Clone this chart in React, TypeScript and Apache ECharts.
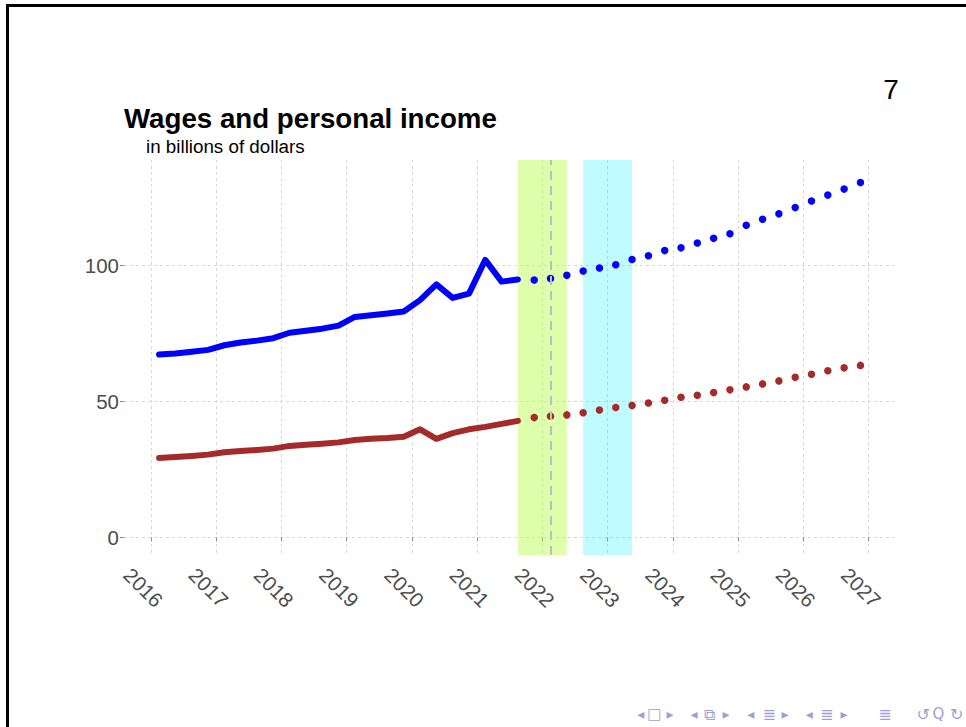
import React, { useEffect, useRef } from "react";
import * as echarts from "echarts";

// ---- data ----
const actualQuarters = [
  "2016Q1", "2016Q2", "2016Q3", "2016Q4",
  "2017Q1", "2017Q2", "2017Q3", "2017Q4",
  "2018Q1", "2018Q2", "2018Q3", "2018Q4",
  "2019Q1", "2019Q2", "2019Q3", "2019Q4",
  "2020Q1", "2020Q2", "2020Q3", "2020Q4",
  "2021Q1", "2021Q2", "2021Q3",
];
const forecastQuarters = [
  "2021Q4",
  "2022Q1", "2022Q2", "2022Q3", "2022Q4",
  "2023Q1", "2023Q2", "2023Q3", "2023Q4",
  "2024Q1", "2024Q2", "2024Q3", "2024Q4",
  "2025Q1", "2025Q2", "2025Q3", "2025Q4",
  "2026Q1", "2026Q2", "2026Q3", "2026Q4",
];
const personalIncomeActual = [
  67.2, 67.6, 68.2, 68.9,
  70.6, 71.6, 72.3, 73.2,
  75.2, 75.9, 76.7, 77.8,
  81.0, 81.6, 82.3, 83.0,
  87.2, 93.0, 88.0, 89.6,
  102.0, 94.0, 94.8,
];
const personalIncomeForecast = [
  94.6, 95.1, 96.3, 97.9, 99.0, 100.2, 102.1, 103.5, 105.4, 106.4, 108.2,
  109.9, 111.6, 114.7, 116.9, 118.9, 121.2, 123.6, 125.8, 128.0, 130.4,
];
const wagesActual = [
  29.2, 29.5, 29.9, 30.4,
  31.3, 31.7, 32.1, 32.6,
  33.6, 34.0, 34.4, 34.9,
  35.8, 36.2, 36.5, 37.0,
  39.7, 36.2, 38.3, 39.7,
  40.6, 41.7, 42.8,
];
const wagesForecast = [
  44.0, 44.5, 45.0, 45.8, 46.8, 47.7, 48.5, 49.4, 50.4, 51.5, 52.2,
  53.2, 54.2, 55.3, 56.4, 57.5, 58.8, 59.9, 61.2, 62.3, 63.2,
];
const yearTicks = [2016, 2017, 2018, 2019, 2020, 2021, 2022, 2023, 2024, 2025, 2026, 2027];
const yTicks = [0, 50, 100];
const greenBand = ["2021Q3", "2022Q2"]; // band edges (quarter mid-points)
const cyanBand = ["2022Q3", "2023Q2"];
const dashedQuarter = "2022Q1";

// quarter label -> decimal year at mid-quarter
const qx = (q: string) => {
  const y = parseInt(q.slice(0, 4), 10);
  const n = parseInt(q.slice(5), 10);
  return y + (n - 1) * 0.25 + 0.125;
};
const pairs = (qs: string[], vs: number[]) => qs.map((q, i) => [qx(q), vs[i]]);

const FONT = "'Liberation Sans', Arial, sans-serif";
const NAV = "#9e9ed8";

export default function App() {
  const ref = useRef<HTMLDivElement>(null);
  useEffect(() => {
    if (!ref.current) return;
    const chart = echarts.init(ref.current, undefined, { renderer: "svg" });
    const navItems: [number, string, number][] = [
      [640.7, "◂", 14], [654.3, "□", 15], [670, "▸", 14],
      [694, "◂", 14], [709.3, "⧉", 16], [726, "▸", 14],
      [750.7, "◂", 14], [769.3, "≣", 16], [785, "▸", 14],
      [809.3, "◂", 14], [826.7, "≣", 16], [844, "▸", 14],
      [885, "≣", 16], [923.3, "↺", 16], [938.3, "Q", 15], [956.7, "↻", 16],
    ];
    const gridStyle = { color: "#d9d9d9", type: [3, 3] as any, width: 1 };
    chart.setOption({
      animation: false,
      backgroundColor: "#ffffff",
      grid: { left: 124, right: 70.5, top: 160, bottom: 172, containLabel: false },
      xAxis: {
        type: "value",
        min: 2015.5875,
        max: 2027.4125,
        axisLine: { show: false },
        axisTick: { show: true, length: 4, lineStyle: { color: "#8c8c8c" }, customValues: yearTicks },
        axisLabel: {
          customValues: yearTicks,
          rotate: -45,
          align: "center",
          verticalAlign: "top",
          margin: 25,
          fontSize: 20.5,
          color: "#4d4d4d",
          fontFamily: FONT,
          formatter: (v: number) => String(Math.round(v)),
        },
        splitLine: { show: true, lineStyle: gridStyle },
      },
      yAxis: {
        type: "value",
        min: -6.5,
        max: 138.7,
        axisLine: { show: false },
        axisTick: { show: true, length: 4, lineStyle: { color: "#8c8c8c" }, customValues: yTicks },
        axisLabel: {
          customValues: yTicks,
          margin: 5,
          fontSize: 20.5,
          color: "#4d4d4d",
          fontFamily: FONT,
        },
        splitLine: { show: true, lineStyle: gridStyle },
      },
      series: [
        {
          type: "line",
          name: "bands",
          z: 1,
          silent: true,
          symbol: "none",
          lineStyle: { opacity: 0 },
          data: pairs(forecastQuarters, personalIncomeForecast),
          markArea: {
            silent: true,
            label: { show: false },
            data: [
              [
                { xAxis: qx(greenBand[0]), itemStyle: { color: "rgba(173,255,47,0.40)" } },
                { xAxis: qx(greenBand[1]) },
              ],
              [
                { xAxis: qx(cyanBand[0]), itemStyle: { color: "rgba(0,240,255,0.25)" } },
                { xAxis: qx(cyanBand[1]) },
              ],
            ],
          },
        },
        {
          type: "line",
          name: "vline",
          z: 2,
          silent: true,
          symbol: "none",
          lineStyle: { opacity: 0 },
          data: pairs(forecastQuarters, wagesForecast),
          markLine: {
            silent: true,
            symbol: "none",
            label: { show: false },
            lineStyle: { color: "#bebebe", type: [9, 6], width: 2 },
            data: [{ xAxis: qx(dashedQuarter) }],
          },
        },
        {
          type: "line",
          name: "Personal income",
          z: 3,
          symbol: "none",
          lineStyle: { color: "#0000ff", width: 6, cap: "round", join: "round" },
          data: pairs(actualQuarters, personalIncomeActual),
        },
        {
          type: "line",
          name: "Wages",
          z: 3,
          symbol: "none",
          lineStyle: { color: "#a52a2a", width: 6, cap: "round", join: "round" },
          data: pairs(actualQuarters, wagesActual),
        },
        {
          type: "scatter",
          name: "Personal income forecast",
          z: 4,
          symbolSize: 7.5,
          itemStyle: { color: "#0000ff", opacity: 1 },
          data: pairs(forecastQuarters, personalIncomeForecast),
        },
        {
          type: "scatter",
          name: "Wages forecast",
          z: 4,
          symbolSize: 7.5,
          itemStyle: { color: "#a52a2a", opacity: 1 },
          data: pairs(forecastQuarters, wagesForecast),
        },
      ],
      graphic: [
        { type: "rect", shape: { x: 6, y: 4, width: 960, height: 3 }, style: { fill: "#000" } },
        { type: "rect", shape: { x: 6, y: 4, width: 3, height: 723 }, style: { fill: "#000" } },
        {
          type: "text",
          x: 124,
          y: 118,
          style: {
            text: "Wages and personal income",
            fontSize: 27.7,
            fontWeight: "bold",
            fontFamily: FONT,
            fill: "#000",
            verticalAlign: "middle",
          },
        },
        {
          type: "text",
          x: 146,
          y: 146,
          style: {
            text: "in billions of dollars",
            fontSize: 18.8,
            fontFamily: FONT,
            fill: "#000",
            verticalAlign: "middle",
          },
        },
        {
          type: "text",
          x: 891,
          y: 89,
          style: {
            text: "7",
            fontSize: 28,
            fontFamily: FONT,
            fill: "#000",
            align: "center",
            verticalAlign: "middle",
          },
        },
        ...navItems.map(([x, t, s]) => ({
          type: "text",
          x,
          y: 714,
          style: {
            text: t,
            fontSize: s,
            fontFamily: "'DejaVu Sans', sans-serif",
            fill: NAV,
            align: "center",
            verticalAlign: "middle",
          },
        })),
      ],
    });
    return () => chart.dispose();
  }, []);
  return (
    <div
      ref={ref}
      style={{ position: "fixed", left: 0, top: 0, width: 966, height: 727, background: "#fff" }}
    />
  );
}
